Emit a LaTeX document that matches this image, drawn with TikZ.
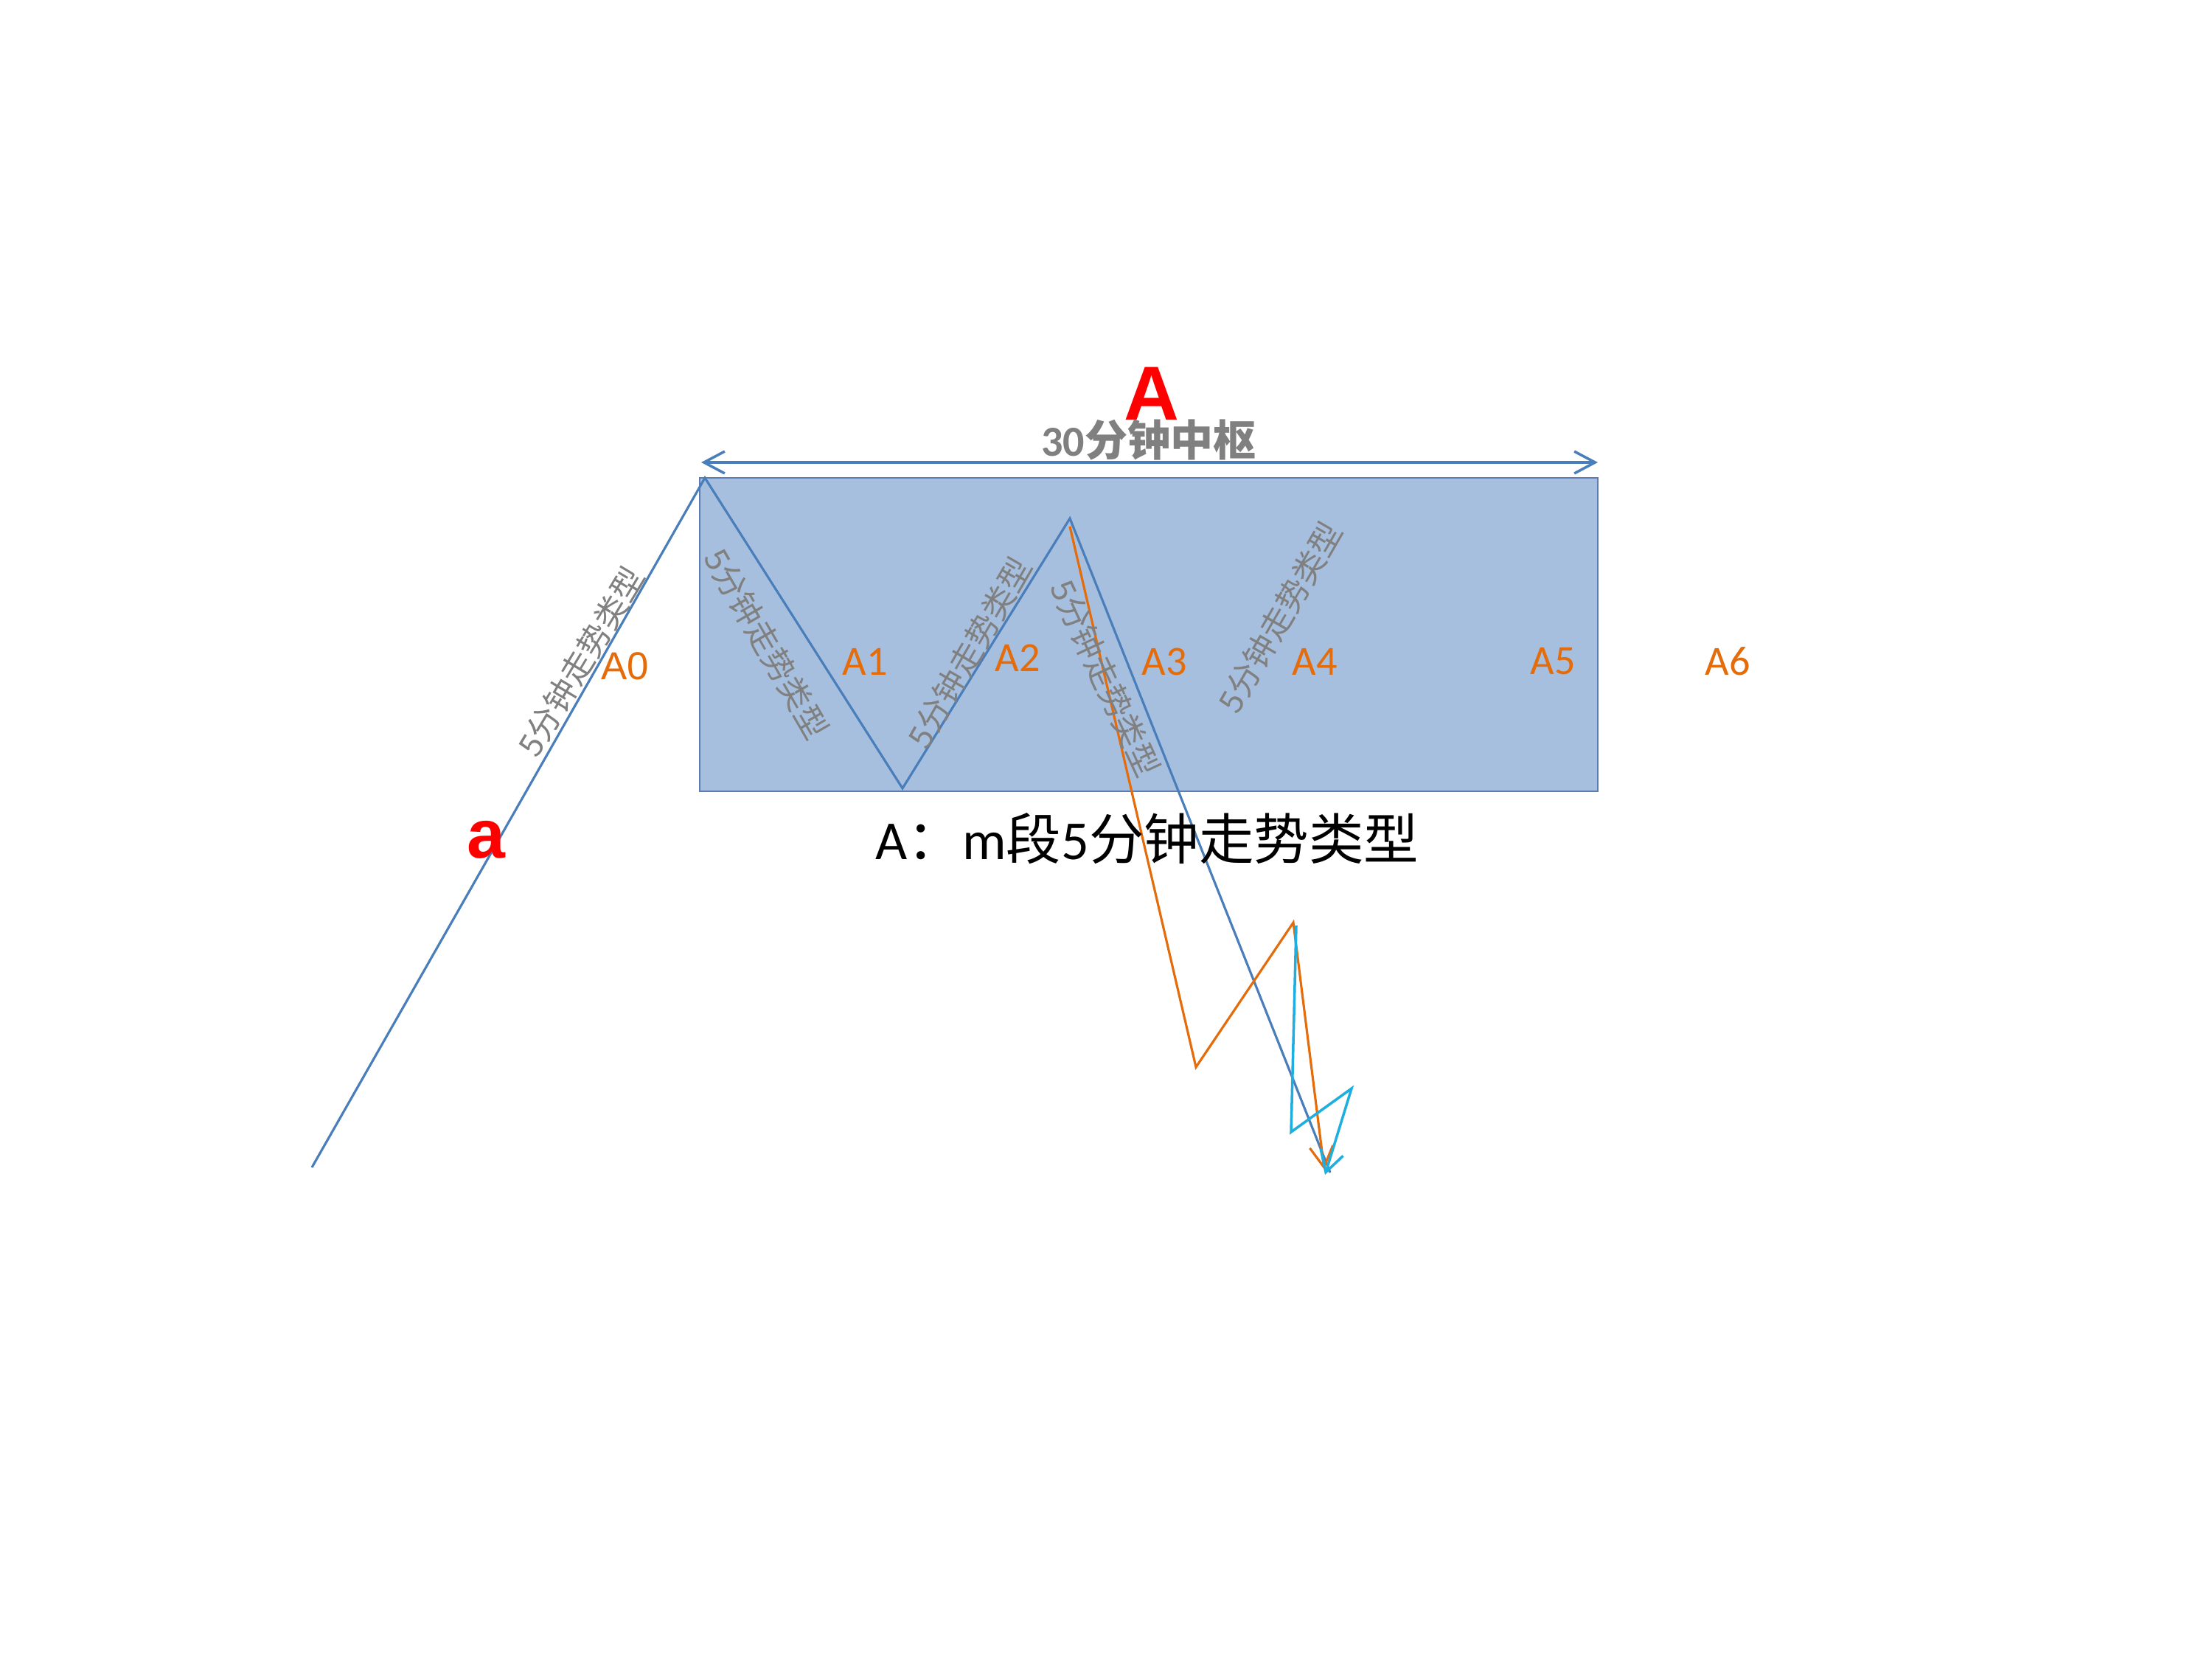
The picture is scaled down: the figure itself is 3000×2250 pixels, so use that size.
\documentclass[tikz,border=0pt]{standalone}
\usepackage{fontspec}
\setmainfont{Carlito}
\newfontfamily\cjk{Noto Sans CJK SC}
\newfontfamily\ari{Liberation Sans}
\usetikzlibrary{arrows.meta}
\definecolor{lineblue}{HTML}{4A7EBB}
\definecolor{boxfill}{HTML}{A7BFDE}
\definecolor{boxedge}{HTML}{5A7DB3}
\definecolor{orangeA}{HTML}{E46C0A}
\definecolor{cyanA}{HTML}{1FAEE0}
\definecolor{grayT}{HTML}{808080}
\definecolor{redA}{HTML}{FF0000}
\tikzset{
  bluel/.style={draw=lineblue, line width=0.9pt, line join=miter},
  barb/.style={Straight Barb[length=8pt,width=9pt]},
  orl/.style={draw=orangeA, line width=0.9pt, -{Straight Barb[length=8pt,width=9pt]}},
  cyl/.style={draw=cyanA, line width=1pt, -{Straight Barb[length=8pt,width=9pt]}},
  albl/.style={inner sep=0pt, text=orangeA, font=\fontsize{16}{18}\selectfont},
  glbl/.style={inner sep=0pt, text=grayT, font=\cjk\fontsize{12.5}{14}\selectfont},
  redbig/.style={inner sep=0pt, anchor=base, text=redA}
}
\begin{document}
\begin{tikzpicture}[x=0.01cm,y=-0.01cm]
\useasboundingbox (0,0) rectangle (3000,2250);
\fill[white] (0,0) rectangle (3000,2250);
% box
\draw[boxedge, line width=0.6pt, fill=boxfill] (949,648) rectangle (2167,1073);
% top arrow
\coordinate (al) at (951,627);
\coordinate (ar) at (2167,627);
\draw[lineblue, line width=1pt, {Straight Barb[length=8pt,width=8.5pt]}-{Straight Barb[length=8pt,width=8.5pt]}] (al) -- (ar);
% main zigzag
\coordinate (s) at (423,1583);
\coordinate (p1) at (956,648);
\coordinate (v1) at (1224,1069);
\coordinate (p2) at (1451,703);
\coordinate (e) at (1804,1590);
\draw[bluel] (s) -- (p1) -- (v1) -- (p2) -- (e);
% orange path
\coordinate (o0) at (1451,714);
\coordinate (o1) at (1622,1447);
\coordinate (o2) at (1754,1251);
\coordinate (o3) at (1796,1586);
\draw[orl] (o0) -- (o1) -- (o2) -- (o3);
% cyan path
\coordinate (c0) at (1758,1255);
\coordinate (c1) at (1751,1535);
\coordinate (c2) at (1833,1476);
\coordinate (c3) at (1797,1593);
\draw[cyl] (c0) -- (c1) -- (c2) -- (c3);
% titles
\node[redbig, font=\ari\bfseries\fontsize{29.5}{31}\selectfont] (tA) at (1562,569) {A};
\node[redbig, font=\ari\bfseries\fontsize{26.5}{28}\selectfont] (ta) at (659,1163) {a};
\node[inner sep=0pt, anchor=base, text=grayT, font=\fontsize{16.5}{18}\selectfont\bfseries] (t30) at (1558,618) {30{\cjk 分钟中枢}};
\node[inner sep=0pt, anchor=base, text=black, font=\fontsize{21.2}{24}\selectfont] (tm) at (1556,1165) {A{\cjk ：}m{\cjk 段}5{\cjk 分钟走势类型}};
% orange labels
\node[albl, font=\ari\fontsize{15}{17}\selectfont] (A0) at (848,903) {A0};
\node[albl] (A1) at (1173,897) {A1};
\node[albl] (A2) at (1380,892) {A2};
\node[albl] (A3) at (1579,897) {A3};
\node[albl] (A4) at (1783,897) {A4};
\node[albl] (A5) at (2106,897) {A5};
\node[albl] (A6) at (2343,897) {A6};
% gray rotated labels
\node[glbl, rotate=59] (g0) at (788,897) {5分钟走势类型};
\node[glbl, rotate=-60] (g1) at (1040,873) {5分钟走势类型};
\node[glbl, rotate=60] (g2) at (1315,885) {5分钟走势类型};
\node[glbl, rotate=-65] (g3) at (1499,920) {5分钟走势类型};
\node[glbl, rotate=60] (g4) at (1736,837) {5分钟走势类型};
\end{tikzpicture}
\end{document}
